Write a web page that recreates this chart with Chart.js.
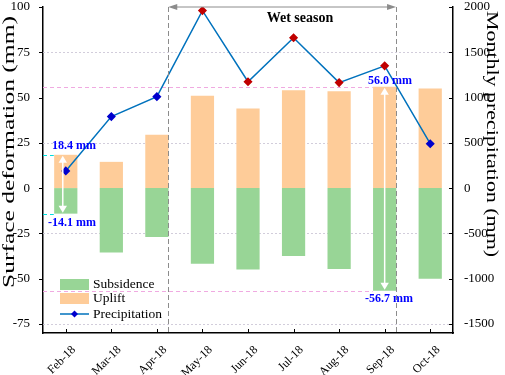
<!DOCTYPE html>
<html>
<head>
<meta charset="utf-8">
<script src="https://cdn.jsdelivr.net/npm/chart.js@4.4.0/dist/chart.umd.min.js"></script>
<style>
  html, body { margin: 0; padding: 0; background: #fff; }
  #wrap { width: 505px; height: 375px; }
</style>
</head>
<body>
<div id="wrap"><canvas id="myChart"></canvas></div>
<script>
const months = ['Feb-18', 'Mar-18', 'Apr-18', 'May-18', 'Jun-18', 'Jul-18', 'Aug-18', 'Sep-18', 'Oct-18'];
const uplift = [18.4, 14.5, 29.5, 51, 44, 54, 53.5, 56.0, 55];
const subsidence = [-14.1, -35.5, -27, -41.8, -45, -37.5, -44.7, -56.7, -50];
const precipitation = [190, 790, 1010, 1960, 1175, 1660, 1165, 1350, 490];
const wetMonths = ['May-18', 'Jun-18', 'Jul-18', 'Aug-18', 'Sep-18'];
const deformTicks = [-75, -50, -25, 0, 25, 50, 75, 100];
const precipTicks = [-1500, -1000, -500, 0, 500, 1000, 1500, 2000];

const serif = '"Liberation Serif", "Times New Roman", serif';
const green = 'rgb(152, 213, 150)';
const orange = 'rgb(254, 204, 153)';
const lineBlue = 'rgb(0, 114, 189)';
const markBlue = 'rgb(0, 0, 205)';
const markRed = 'rgb(192, 0, 0)';

const pointColors = months.map(m => wetMonths.includes(m) ? markRed : markBlue);

function arrowHead(ctx, x, y, dir, size) {
  // dir: 1 = pointing down, -1 = pointing up
  ctx.beginPath();
  ctx.moveTo(x, y);
  ctx.lineTo(x - size * 0.6, y - dir * size);
  ctx.lineTo(x + size * 0.6, y - dir * size);
  ctx.closePath();
  ctx.fill();
}

// rotated axis title, stretched along its length like the original
function sideTitle(ctx, text, cx, cy, angle, len) {
  ctx.save();
  ctx.font = '17px ' + serif;
  ctx.fillStyle = '#000';
  ctx.textAlign = 'center';
  ctx.textBaseline = 'middle';
  ctx.translate(cx, cy);
  ctx.rotate(angle);
  ctx.scale(len / ctx.measureText(text).width, 1);
  ctx.fillText(text, 0, 0);
  ctx.restore();
}

const decorations = {
  id: 'decorations',
  beforeDatasetsDraw(chart) {
    const {ctx, chartArea: a, scales: {x, y}} = chart;
    ctx.save();
    // dotted grid
    ctx.strokeStyle = 'rgba(205, 200, 215, 0.9)';
    ctx.lineWidth = 1;
    ctx.setLineDash([2, 2]);
    [75, 25, -25, -75].forEach(v => {
      const py = Math.round(y.getPixelForValue(v)) + 0.5;
      ctx.beginPath(); ctx.moveTo(a.left, py); ctx.lineTo(a.right, py); ctx.stroke();
    });
    // extent lines
    ctx.setLineDash([4, 3]);
    ctx.strokeStyle = 'rgb(240, 170, 225)';
    const sepLeft = x.getPixelForValue(7) - 12;
    [uplift[7], subsidence[7]].forEach(v => {
      const py = Math.round(y.getPixelForValue(v)) + 0.5;
      ctx.beginPath(); ctx.moveTo(a.left, py); ctx.lineTo(sepLeft, py); ctx.stroke();
    });
    ctx.strokeStyle = 'rgb(0, 220, 220)';
    const febLeft = x.getPixelForValue(0) - 12;
    [uplift[0], subsidence[0]].forEach(v => {
      const py = Math.round(y.getPixelForValue(v)) + 0.5;
      ctx.beginPath(); ctx.moveTo(a.left, py); ctx.lineTo(febLeft, py); ctx.stroke();
    });
    ctx.restore();
  },
  afterDatasetsDraw(chart) {
    const {ctx, chartArea: a, scales: {x, y, y1}} = chart;
    ctx.save();
    // white arrows inside bars
    ctx.strokeStyle = '#fff';
    ctx.fillStyle = '#fff';
    ctx.lineWidth = 1.5;
    [[0, -3], [7, 0]].forEach(([i, dx]) => {
      const px = x.getPixelForValue(i) + dx;
      const top = y.getPixelForValue(uplift[i]);
      const bot = y.getPixelForValue(subsidence[i]);
      ctx.beginPath(); ctx.moveTo(px, top + 6); ctx.lineTo(px, bot - 6); ctx.stroke();
      arrowHead(ctx, px, top + 1, -1, 7);
      arrowHead(ctx, px, bot - 1, 1, 7);
    });
    // labels
    ctx.fillStyle = 'rgb(0, 0, 255)';
    ctx.font = 'bold 12px ' + serif;
    ctx.textAlign = 'center';
    ctx.textBaseline = 'middle';
    ctx.fillText(uplift[0].toFixed(1) + ' mm', 74, y.getPixelForValue(uplift[0]) - 9);
    ctx.fillText(subsidence[0].toFixed(1) + ' mm', 72, y.getPixelForValue(subsidence[0]) + 9);
    ctx.fillText(uplift[7].toFixed(1) + ' mm', 390, y.getPixelForValue(uplift[7]) - 6);
    ctx.fillText(subsidence[7].toFixed(1) + ' mm', 389, y.getPixelForValue(subsidence[7]) + 8);
    // wet season dashed bounds
    const xs = x.getPixelForValue(2.25), xe = x.getPixelForValue(7.25);
    ctx.strokeStyle = 'rgb(140, 140, 140)';
    ctx.lineWidth = 1;
    ctx.setLineDash([5, 3]);
    [xs, xe].forEach(px => {
      ctx.beginPath(); ctx.moveTo(Math.round(px) + 0.5, a.top); ctx.lineTo(Math.round(px) + 0.5, a.bottom); ctx.stroke();
    });
    ctx.setLineDash([]);
    ctx.beginPath(); ctx.moveTo(xs + 6, a.top); ctx.lineTo(xe - 6, a.top); ctx.stroke();
    ctx.fillStyle = 'rgb(140, 140, 140)';
    ctx.beginPath(); ctx.moveTo(xs, a.top); ctx.lineTo(xs + 9, a.top - 3); ctx.lineTo(xs + 9, a.top + 3); ctx.closePath(); ctx.fill();
    ctx.beginPath(); ctx.moveTo(xe, a.top); ctx.lineTo(xe - 9, a.top - 3); ctx.lineTo(xe - 9, a.top + 3); ctx.closePath(); ctx.fill();
    ctx.fillStyle = '#000';
    ctx.font = 'bold 14px ' + serif;
    ctx.fillText('Wet season', 300, a.top + 11);
    // tick marks
    ctx.strokeStyle = '#000';
    ctx.lineWidth = 1;
    y.ticks.forEach(t => {
      const py = Math.round(y.getPixelForValue(t.value)) + 0.5;
      ctx.beginPath(); ctx.moveTo(a.left - 4, py); ctx.lineTo(a.left, py); ctx.stroke();
    });
    y1.ticks.forEach(t => {
      const py = Math.round(y1.getPixelForValue(t.value)) + 0.5;
      ctx.beginPath(); ctx.moveTo(a.right - 4, py); ctx.lineTo(a.right, py); ctx.stroke();
    });
    months.forEach((m, i) => {
      const px = Math.round(x.getPixelForValue(i)) + 0.5;
      ctx.beginPath(); ctx.moveTo(px, a.bottom - 4); ctx.lineTo(px, a.bottom); ctx.stroke();
    });
    // legend
    const lx = 60, lw = 29;
    ctx.textAlign = 'left';
    ctx.font = '13.5px ' + serif;
    ctx.fillStyle = green; ctx.fillRect(lx, 279, lw, 11);
    ctx.fillStyle = orange; ctx.fillRect(lx, 293, lw, 11);
    ctx.strokeStyle = lineBlue; ctx.lineWidth = 1.5;
    ctx.beginPath(); ctx.moveTo(lx, 314); ctx.lineTo(lx + lw, 314); ctx.stroke();
    ctx.fillStyle = markBlue;
    ctx.beginPath(); ctx.moveTo(lx + 14.5, 310.5); ctx.lineTo(lx + 18, 314); ctx.lineTo(lx + 14.5, 317.5); ctx.lineTo(lx + 11, 314); ctx.closePath(); ctx.fill();
    ctx.fillStyle = '#000';
    ctx.fillText('Subsidence', 93, 284);
    ctx.fillText('Uplift', 93, 298);
    ctx.fillText('Precipitation', 93, 314);
    ctx.restore();
    // axis titles
    sideTitle(ctx, 'Surface deformation (mm)', 10, 152, -Math.PI / 2, 272);
    sideTitle(ctx, 'Monthly precipitation (mm)', 491, 134, Math.PI / 2, 246);
  }
};

function fixVertical(width) {
  return s => { s.width = width; s.paddingTop = 7; s.paddingBottom = 0; };
}

const config = {
  type: 'bar',
  data: {
    labels: months,
    datasets: [
      {
        type: 'line',
        label: 'Precipitation',
        data: precipitation,
        yAxisID: 'y1',
        borderColor: lineBlue,
        borderWidth: 1.5,
        pointStyle: 'rectRot',
        pointRadius: 3.5,
        pointBackgroundColor: pointColors,
        pointBorderColor: pointColors,
        tension: 0,
        order: 0
      },
      { label: 'Subsidence', data: subsidence, backgroundColor: green, yAxisID: 'y', order: 1 },
      { label: 'Uplift', data: uplift, backgroundColor: orange, yAxisID: 'y', order: 1 }
    ]
  },
  options: {
    responsive: false,
    animation: false,
    events: [],
    layout: { padding: 0 },
    datasets: { bar: { barPercentage: 1, categoryPercentage: 0.51 } },
    plugins: { legend: { display: false }, tooltip: { enabled: false } },
    scales: {
      x: {
        stacked: true,
        grid: { display: false },
        border: { display: true, color: '#000', width: 1.5 },
        ticks: { color: '#000', font: { family: serif, size: 12 }, minRotation: 45, maxRotation: 45, padding: 2, labelOffset: 8 },
        afterFit(s) { s.height = 42; s.paddingLeft = 0; s.paddingRight = 0; }
      },
      y: {
        stacked: true,
        position: 'left',
        min: -80, max: 100,
        grid: { display: false },
        border: { display: true, color: '#000', width: 1.5 },
        afterBuildTicks(s) { s.ticks = deformTicks.map(v => ({ value: v })); },
        ticks: { color: '#000', font: { family: serif, size: 13 }, padding: 5, callback: v => String(v) },
        afterFit: fixVertical(43)
      },
      y1: {
        position: 'right',
        min: -1600, max: 2000,
        grid: { display: false },
        border: { display: true, color: '#000', width: 1.5 },
        afterBuildTicks(s) { s.ticks = precipTicks.map(v => ({ value: v })); },
        ticks: { color: '#000', font: { family: serif, size: 13 }, padding: 3, callback: v => String(v) },
        afterFit: fixVertical(52)
      }
    }
  },
  plugins: [decorations]
};

const canvas = document.getElementById('myChart');
canvas.width = 505;
canvas.height = 375;
const myChart = new Chart(canvas, config);
</script>
</body>
</html>
